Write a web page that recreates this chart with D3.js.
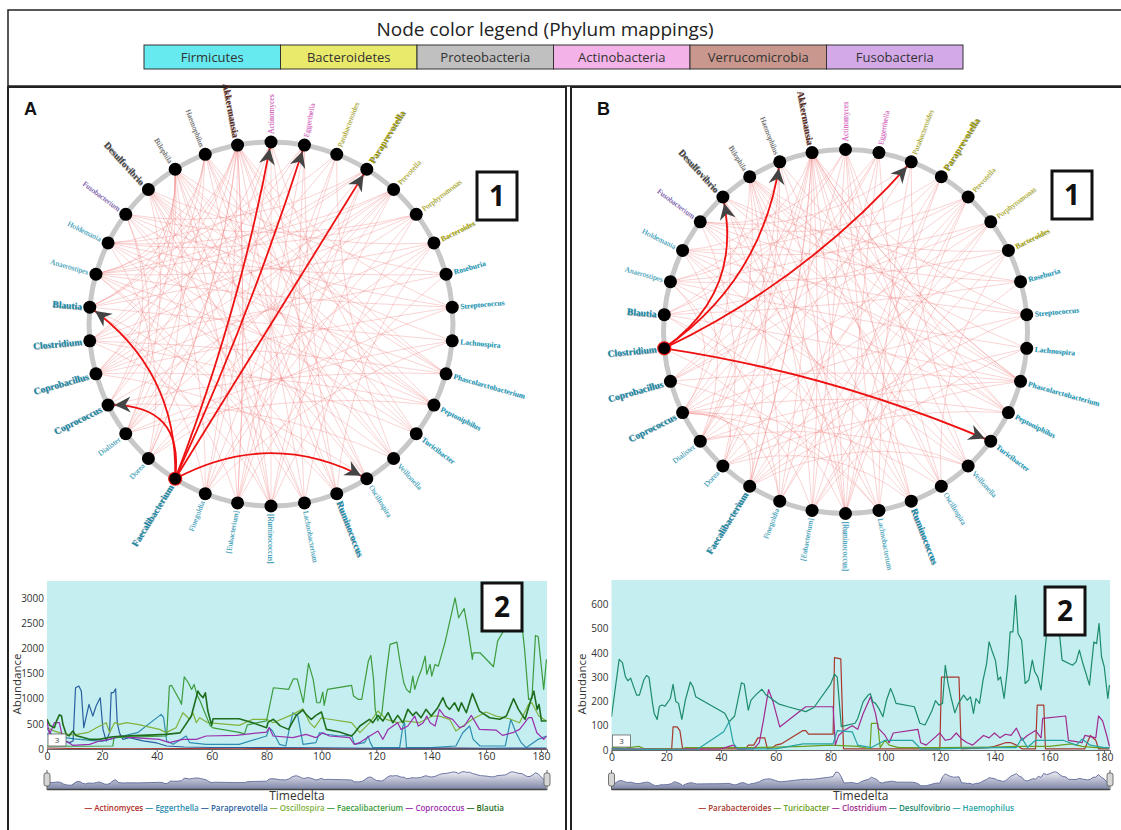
<!DOCTYPE html>
<html><head><meta charset="utf-8">
<script src="https://cdn.jsdelivr.net/npm/d3@7"></script>
<style>body{margin:0;background:#fff}svg{display:block}</style>
</head><body>
<svg id="chart" width="1121" height="830"></svg>
<script>
// ---------------- DATA ----------------
const legendTitle = "Node color legend (Phylum mappings)";
const phyla = ["Firmicutes","Bacteroidetes","Proteobacteria","Actinobacteria","Verrucomicrobia","Fusobacteria"];
const genera = ["Actinomyces","Eggerthella","Parabacteroides","Paraprevotella","Prevotella","Porphyromonas","Bacteroides","Roseburia","Streptococcus","Lachnospira","Phascolarctobacterium","Peptoniphilus","Turicibacter","Veillonella","Oscillospira","Ruminococcus","Lachnobacterium","[Ruminococcus]","[Eubacterium]","Finegoldia","Faecalibacterium","Dorea","Dialister","Coprococcus","Coprobacillus","Clostridium","Blautia","Anaerostipes","Holdemania","Fusobacterium","Desulfovibrio","Bilophila","Haemophilus","Akkermansia"];
const generaPhylum = ["Actinobacteria","Actinobacteria","Bacteroidetes","Bacteroidetes","Bacteroidetes","Bacteroidetes","Bacteroidetes","Firmicutes","Firmicutes","Firmicutes","Firmicutes","Firmicutes","Firmicutes","Firmicutes","Firmicutes","Firmicutes","Firmicutes","Firmicutes","Firmicutes","Firmicutes","Firmicutes","Firmicutes","Firmicutes","Firmicutes","Firmicutes","Firmicutes","Firmicutes","Firmicutes","Firmicutes","Fusobacteria","Proteobacteria","Proteobacteria","Proteobacteria","Verrucomicrobia"];

const edgesA = [[4,28],[4,27],[4,25],[4,22],[4,21],[4,24],[4,17],[5,29],[5,28],[5,26],[5,23],[5,19],[5,16],[6,30],[6,27],[6,24],[6,21],[6,18],[6,15],[33,13],[33,16],[33,18],[33,11],[33,21],[33,8],[0,17],[0,19],[0,12],[0,22],[1,22],[1,18],[1,15],[1,27],[2,28],[2,24],[2,13],[2,19],[3,29],[3,26],[3,18],[3,22],[7,28],[7,25],[7,17],[7,31],[8,27],[8,24],[8,29],[8,21],[9,26],[9,30],[9,22],[9,19],[10,28],[10,25],[10,31],[10,33],[10,23],[10,32],[11,27],[11,29],[11,24],[11,30],[11,31],[11,22],[12,28],[12,32],[12,25],[12,30],[13,27],[13,30],[13,31],[13,23],[14,32],[14,29],[14,33],[14,24],[14,30],[15,28],[15,31],[15,32],[15,0],[15,26],[16,29],[16,30],[16,1],[16,27],[17,30],[17,31],[17,32],[17,3],[17,27],[17,25],[18,31],[18,33],[18,2],[18,26],[19,30],[19,33],[19,4],[19,26],[21,31],[21,33],[21,28],[22,32],[22,30],[22,29],[23,31],[23,33],[23,29],[24,32],[24,31],[24,0],[25,33],[25,1],[25,31],[26,31],[26,32],[26,33],[27,33],[27,31],[27,3],[28,32]];
const edgesB = [[4,29],[4,27],[4,24],[4,21],[4,19],[4,16],[5,28],[5,26],[5,23],[5,20],[5,17],[6,30],[6,27],[6,22],[6,18],[6,14],[33,12],[33,15],[33,17],[33,10],[33,20],[33,8],[33,22],[0,16],[0,18],[0,13],[0,21],[0,11],[1,23],[1,19],[1,14],[1,27],[2,29],[2,22],[2,13],[3,28],[3,24],[3,17],[3,20],[7,29],[7,26],[7,18],[7,31],[8,28],[8,23],[8,30],[8,20],[9,27],[9,31],[9,21],[9,18],[10,29],[10,26],[10,31],[10,33],[10,22],[10,32],[10,24],[11,28],[11,30],[11,23],[11,31],[11,21],[11,33],[13,27],[13,31],[13,22],[13,29],[14,32],[14,28],[14,33],[14,23],[15,29],[15,31],[15,0],[15,26],[15,21],[16,28],[16,30],[16,2],[16,24],[17,30],[17,31],[17,32],[17,4],[17,26],[17,1],[18,31],[18,33],[18,3],[18,25],[19,30],[19,33],[19,5],[19,27],[20,31],[20,33],[20,23],[20,22],[20,13],[20,10],[21,32],[21,29],[21,23],[22,32],[22,31],[22,28],[23,30],[23,33],[23,27],[23,19],[23,16],[24,33],[24,1],[26,31],[26,0],[27,32],[28,33],[29,0]];
const highlightSourceA = 20;
const highlightTargetsA = [26,23,0,1,3,14];
const highlightSourceB = 25;
const highlightTargetsB = [30,32,2,12];

const xTicks = [0,20,40,60,80,100,120,140,160,180];
const yTicksA = [0,500,1000,1500,2000,2500,3000];
const yTicksB = [0,100,200,300,400,500,600];

const seriesNamesA = ["Actinomyces","Eggerthella","Paraprevotella","Oscillospira","Faecalibacterium","Coprococcus","Blautia"];
const actinomyces = [[0,20],[10,10],[30,5],[50,8],[70,5],[90,10],[110,5],[130,8],[150,12],[170,5],[182,10]];
const eggerthella = [[0,300],[3,250],[10,200],[20,150],[27.6,258],[33,324],[41.6,688],[42.5,622],[43.6,159],[46,93],[50.7,258],[52,126],[58,93],[70,93],[80,258],[81,424],[82.2,357],[84.7,93],[87,60],[89.6,721],[91.4,655],[93.3,93],[98,126],[99.3,324],[101.8,291],[106.6,258],[111,271],[112.1,93],[115.7,126],[117,258],[117.8,126],[118.8,27],[128.5,27],[129.7,457],[130.3,523],[131,27],[140,27],[149,60],[151.5,324],[154,457],[155.3,192],[157.8,60],[167,60],[169,590],[170.9,324],[172.8,126],[174.6,27],[179,192],[182,258]];
const paraprevotella = [[0,420],[2,260],[4.6,192],[8.2,126],[9.5,160],[10.4,1218],[11.6,1251],[12.5,1152],[13.4,424],[15.3,887],[16.7,655],[17.9,854],[19.4,1020],[20.4,390],[21.6,159],[22.8,325],[23.4,1119],[24.2,1119],[25,1197],[25.6,523],[26.4,325],[27.6,192],[30,225],[35,160],[40,120],[43.6,60],[50,40],[60,30],[80,30],[100,25],[120,15],[140,20],[160,15],[182,20]];
const oscillospira = [[0,420],[3,350],[6,300],[10,280],[15,330],[18,424],[21.6,523],[22.8,325],[24.6,523],[26.4,490],[28.9,523],[33,490],[41,390],[43.4,325],[47,424],[49.5,721],[52,590],[53.2,721],[54.4,523],[55.6,622],[58.6,523],[70,470],[75,590],[80,590],[82.4,523],[89.6,688],[93.3,800],[95.7,523],[97.5,424],[100,622],[101.8,602],[111,523],[114,324],[117.6,523],[120.6,755],[123.6,590],[127.8,523],[130.8,556],[135.6,523],[140.5,655],[143,655],[146.7,590],[149,357],[155,590],[160,735],[163.6,655],[168.5,602],[172.2,523],[175.5,887],[176.7,920],[179.2,655],[182,556]];
const faecalibacterium = [[0,60],[10,55],[24,60],[24.4,225],[43.6,258],[44.6,1250],[45.4,1264],[48.5,953],[49,887],[50,1436],[51.5,1317],[52.7,1185],[53.6,1284],[54.6,1085],[55.8,953],[58,655],[59.5,460],[60.5,420],[70,330],[72,300],[73,480],[80,560],[82.5,1218],[88,1185],[89.8,1397],[91.2,1390],[92.5,1119],[93.4,920],[95.3,1701],[97,1383],[98.3,920],[99.5,920],[100.5,1132],[101,867],[102.2,1185],[111,1264],[111.7,1053],[113.5,986],[114.7,986],[117.1,1748],[118,1860],[119,1383],[119.6,788],[120.5,560],[122,700],[123.8,1582],[125,2079],[127.5,2125],[128.7,1715],[130,1317],[131,1185],[132.3,1119],[133.3,1450],[134,1185],[135.3,1420],[136.5,1582],[137.8,1847],[138.4,1483],[139.6,1681],[140.2,1450],[141.4,1681],[142.6,1648],[145,2112],[148.7,3005],[150,2608],[152,2794],[153.6,2310],[155,1781],[155.3,1913],[157.8,1913],[162.7,1635],[164.2,2145],[166.3,2343],[168,2400],[170,2480],[173,2509],[174,2000],[175.5,986],[176.7,1000],[178,2257],[179,2230],[181,1185],[182,1780]];
const coprococcus = [[0,550],[0.9,290],[2.7,523],[4.5,523],[5.8,192],[9.4,73],[15.5,93],[19.2,159],[22.8,192],[26.4,258],[30,230],[41,192],[44.6,126],[49.5,192],[54.4,192],[58,258],[69,271],[80,337],[81,424],[82.4,258],[89.6,225],[94.4,291],[98,225],[100.5,324],[102.9,258],[110.3,225],[112,93],[113.9,126],[117.6,258],[120.6,357],[122.4,192],[124.3,390],[127.8,523],[129,390],[131.5,457],[134,655],[135.3,457],[137.1,523],[138.4,655],[139.6,523],[141.4,457],[143,788],[144.8,655],[147.8,590],[150.3,424],[152.1,457],[154.6,668],[157.6,390],[163.6,377],[166,271],[169.7,324],[172.2,390],[175.5,622],[176.7,622],[178.5,324],[181,192],[182,258]];
const blautia = [[0,590],[1,470],[2.7,424],[3.5,560],[4.5,680],[5.3,655],[5.8,490],[7,291],[8,260],[9.4,357],[10.5,270],[15.5,192],[19,192],[24,245],[30,260],[43.4,291],[48.5,320],[52.6,655],[55,1152],[55.7,1085],[56.9,1020],[57.7,1119],[58.6,760],[60,470],[60.5,602],[70,602],[75,520],[80,424],[80.6,535],[82.5,590],[85,460],[88,390],[90.8,668],[93.2,775],[94.4,690],[96.3,590],[98,668],[100,735],[101.8,390],[106.6,337],[111,258],[112.1,324],[114,457],[117.5,590],[118.7,523],[120.6,668],[122.4,556],[124.3,722],[126,523],[127.8,668],[129.7,523],[131.5,788],[133.3,668],[134.5,735],[136.3,622],[138.1,788],[140,655],[142.4,821],[144.3,1020],[145.5,854],[146.7,788],[148.5,920],[150,754],[151,920],[152.8,721],[155,1105],[157.6,754],[161.3,622],[165,590],[167.4,655],[170,1000],[171.8,788],[174.2,590],[176,920],[177.4,1152],[178.6,788],[179.3,887],[180.2,556],[182,556]];

const seriesNamesB = ["Parabacteroides","Turicibacter","Clostridium","Desulfovibrio","Haemophilus"];
const parabacteroides = [[0,5],[10,3],[22,5],[22.5,95],[24,95],[25,80],[26,5],[49,5],[50,20],[52,20],[53.5,50],[56,50],[57,5],[59,10],[60,20],[62,25],[70,80],[71,80],[72,65],[81,65],[81.5,380],[83.8,375],[84.8,5],[120,5],[120.6,300],[127,300],[127.8,5],[138,10],[140,15],[144,30],[146,30],[148,20],[150,5],[155,5],[155.6,185],[158,185],[158.6,5],[173,5],[175,60],[177,40],[178,5],[182,5]];
const turicibacter = [[0,10],[5,8],[10,15],[12,5],[26,5],[27,10],[40,10],[50,10],[60,12],[70,15],[80,20],[90,15],[94.5,5],[95,110],[97.3,110],[98.2,10],[100,40],[101.5,20],[105,10],[120,10],[140,12],[150,15],[160,15],[168,25],[172,15],[177,10],[182,10]];
const clostridium = [[0,5],[20,3],[40,5],[43,15],[44.5,20],[46,5],[52,5],[54,30],[55.5,120],[57.4,249],[59,200],[61.5,95],[70,170],[71,178],[81,178],[81.8,20],[83,60],[85,80],[88,100],[90,85],[92,150],[94.7,219],[96.5,150],[97.5,90],[100,60],[101.5,30],[103,70],[112,85],[113,30],[115,20],[118,50],[120,70],[122,40],[124,45],[126,70],[128,45],[130,30],[132,20],[134,40],[136,60],[138,50],[140,70],[142,50],[144,65],[146,60],[148,90],[150,40],[152,60],[155,80],[157,50],[157.6,130],[166,140],[167,40],[172,30],[173,60],[177,50],[178,140],[179.5,120],[181,60],[182,15]];
const desulfovibrio = [[0,137],[2.8,373],[4,360],[5.1,301],[6,285],[7,296],[8,263],[9.2,226],[10.2,226],[11.8,288],[12.8,307],[13.7,300],[15,192],[15.6,150],[16.7,126],[17.5,180],[18.5,185],[19.5,180],[21.5,212],[22.5,270],[23.5,200],[24.5,192],[25.7,126],[27,205],[28.8,280],[29.8,260],[30.8,219],[41.4,151],[43,116],[45,140],[47.5,277],[48.5,272],[50,164],[51,205],[53,230],[55,250],[56.5,226],[58,215],[61,190],[64.5,178],[71,158],[74,175],[80,270],[81.5,312],[82.5,300],[84,96],[89,110],[90,130],[92,199],[93.8,226],[94.6,232],[95.5,199],[96.5,192],[97.9,167],[99.2,137],[100.5,205],[102,253],[103,226],[104,192],[110.7,178],[112.7,110],[114.6,103],[117.2,164],[118.4,203],[119.7,185],[121,192],[122,349],[123,274],[124.2,212],[125.5,153],[126.8,192],[128.7,226],[130,205],[131.2,219],[132.3,151],[133.2,212],[134.5,192],[135.8,288],[137.1,356],[138,445],[139,411],[140.3,370],[141.3,288],[142.2,301],[143.5,212],[144.8,342],[145.7,486],[146.7,486],[147.7,637],[148.6,480],[149.9,452],[151.2,274],[152.5,288],[153.8,370],[154.7,322],[155.8,301],[157,247],[159,473],[160.3,527],[162,610],[163,560],[164.7,370],[168.5,349],[169.8,363],[171,411],[172.3,356],[174.7,267],[176.3,445],[177.3,438],[178.2,521],[179.1,384],[180.1,342],[181.4,212],[182,267]];
const haemophilus = [[0,5],[10,3],[30,0],[31,0],[41,75],[43,116],[44.5,30],[46,5],[60,5],[70,25],[81,25],[82.5,80],[88,75],[90,20],[95,10],[100,40],[102,40],[110,40],[113,5],[120,5],[130,8],[140,10],[148,10],[150,50],[152,10],[155,40],[160,40],[165,40],[170,20],[172,45],[175,20],[180,10],[182,10]];

// ---------------- STYLES ----------------
const phylumFill = {Firmicutes:"#66e9ef",Bacteroidetes:"#e9e96b",Proteobacteria:"#c0c0c0",Actinobacteria:"#f3b3e8",Verrucomicrobia:"#c9978d",Fusobacteria:"#d3a9e8"};
const phylumText = {Firmicutes:"#1a9dbd",Bacteroidetes:"#a5a400",Proteobacteria:"#555",Actinobacteria:"#e052c6",Verrucomicrobia:"#5a2a20",Fusobacteria:"#6a3fa8"};
const bigLabels = new Set(["Akkermansia","Desulfovibrio","Paraprevotella","Blautia","Clostridium","Coprobacillus","Coprococcus","Faecalibacterium","Ruminococcus"]);
const midLabels = new Set(["Roseburia","Streptococcus","Lachnospira","Phascolarctobacterium","Peptoniphilus","Turicibacter","Bacteroides"]);
const colorsA = ["#b0302a","#2e8db0","#2a5f9f","#80b23c","#3c9c3c","#9a30ad","#1e6e1e"];
const colorsB = ["#a8382c","#6aa020","#a02a90","#1c8b6b","#27a3a3"];

const svg = d3.select("#chart");
const defs = svg.append("defs");

// ---------------- HEADER ----------------
svg.append("rect").attr("x",8).attr("y",10).attr("width",1130).attr("height",76)
  .attr("fill","none").attr("stroke","#222").attr("stroke-width",1.5);
svg.append("text").attr("x",545).attr("y",36).attr("text-anchor","middle")
  .attr("font-family","Open Sans").attr("font-size",19).attr("fill","#222").text(legendTitle);
const legendBand = d3.scaleBand().domain(phyla).range([144,963]);
const lg = svg.append("g").selectAll("g").data(phyla).join("g");
lg.append("rect").attr("x",d=>legendBand(d)).attr("y",45).attr("width",legendBand.bandwidth()).attr("height",24)
  .attr("fill",d=>phylumFill[d]).attr("stroke","#333").attr("stroke-width",1);
lg.append("text").attr("x",d=>legendBand(d)+legendBand.bandwidth()/2).attr("y",62).attr("text-anchor","middle")
  .attr("font-family","Open Sans").attr("font-size",13).attr("fill","#333").text(d=>d);

// ---------------- PANELS ----------------
const panels = [
  {label:"A", box:[8,87,558,760], labelX:24, cx:271, cy:324, r:182, edges:edgesA, src:highlightSourceA, targets:highlightTargetsA,
   numBox1:[477,172], plot:{l:47,r:547,t:581,b:749}, yMax:3340, yTicks:yTicksA,
   names:seriesNamesA, data:[actinomyces,eggerthella,paraprevotella,oscillospira,faecalibacterium,coprococcus,blautia], colors:colorsA,
   numBox2:[482,583], legendX:294},
  {label:"B", box:[571,87,560,760], labelX:597, cx:845.5, cy:331.5, r:182, edges:edgesB, src:highlightSourceB, targets:highlightTargetsB,
   numBox1:[1052,171], plot:{l:611.5,r:1110,t:580,b:750}, yMax:700, yTicks:yTicksB,
   names:seriesNamesB, data:[parabacteroides,turicibacter,clostridium,desulfovibrio,haemophilus], colors:colorsB,
   numBox2:[1045,587], legendX:856}
];

function numberBox(g, x, y, w, h, txt, fs){
  g.append("rect").attr("x",x).attr("y",y).attr("width",w).attr("height",h)
    .attr("fill","#fff").attr("stroke","#111").attr("stroke-width",3);
  g.append("text").attr("x",x+w/2).attr("y",y+h/2).attr("dy","0.36em").attr("text-anchor","middle")
    .attr("font-family","Open Sans").attr("font-weight","bold").attr("font-size",fs).attr("fill","#111").text(txt);
}

function interp(series, t){
  const i = d3.bisector(d=>d[0]).left(series, t);
  if (i <= 0) return series[0][1];
  if (i >= series.length) return series[series.length-1][1];
  const a = series[i-1], b = series[i];
  return a[1] + (b[1]-a[1])*(t-a[0])/(b[0]-a[0]);
}

panels.forEach((P, pi) => {
  const g = svg.append("g");
  g.append("rect").attr("x",P.box[0]).attr("y",P.box[1]).attr("width",P.box[2]).attr("height",P.box[3])
    .attr("fill","none").attr("stroke","#222").attr("stroke-width",2);
  g.append("text").attr("x",P.labelX).attr("y",115).attr("font-family","Liberation Sans, Arial").attr("font-weight","bold")
    .attr("font-size",18).attr("fill","#111").text(P.label);

  // ---- circular network ----
  const ang = d3.scaleLinear().domain([0, genera.length]).range([0, 2*Math.PI]);
  const px = i => P.cx + P.r*Math.sin(ang(i));
  const py = i => P.cy - P.r*Math.cos(ang(i));
  const k = 0.33;
  const curve = (s,t) => {
    const sx=px(s), sy=py(s), tx=px(t), ty=py(t);
    const mx=(sx+tx)/2, my=(sy+ty)/2;
    const cx=mx+k*(P.cx-mx), cy=my+k*(P.cy-my);
    const p = d3.path(); p.moveTo(sx,sy); p.quadraticCurveTo(cx,cy,tx,ty); return p.toString();
  };
  g.append("circle").attr("cx",P.cx).attr("cy",P.cy).attr("r",P.r)
    .attr("fill","none").attr("stroke","#c8c8c8").attr("stroke-width",5);
  g.append("g").selectAll("path").data(P.edges).join("path")
    .attr("d",d=>curve(d[0],d[1])).attr("fill","none")
    .attr("stroke","#f07070").attr("stroke-opacity",0.38).attr("stroke-width",0.8);

  const mid = "arrow"+P.label;
  defs.append("marker").attr("id",mid).attr("viewBox","0 -8 16 16").attr("refX",16+6.5).attr("refY",0)
    .attr("markerUnits","userSpaceOnUse").attr("markerWidth",16).attr("markerHeight",16)
    .attr("orient","auto").style("overflow","visible")
    .append("path").attr("d","M0,-8L16,0L0,8L5,0Z").attr("fill","#444");
  g.append("g").selectAll("path").data(P.targets).join("path")
    .attr("d",t=>curve(P.src,t)).attr("fill","none")
    .attr("stroke","#ee1111").attr("stroke-width",1.8).attr("marker-end",`url(#${mid})`);

  g.append("g").selectAll("circle").data(genera).join("circle")
    .attr("cx",(d,i)=>px(i)).attr("cy",(d,i)=>py(i)).attr("r",6.5)
    .attr("fill","#000").attr("stroke",(d,i)=>i===P.src?"#ee1111":"none").attr("stroke-width",1.2);

  g.append("g").selectAll("text").data(genera).join("text")
    .attr("transform",(d,i)=>{
      const deg = ang(i)*180/Math.PI;
      return `translate(${P.cx},${P.cy}) rotate(${deg-90}) translate(${P.r+8},0)` + (deg>180?" rotate(180)":"");
    })
    .attr("text-anchor",(d,i)=> ang(i)*180/Math.PI>180 ? "end" : "start")
    .attr("dy","0.35em")
    .attr("font-family","Liberation Serif, Times New Roman, serif")
    .attr("font-size",d=>bigLabels.has(d)?9.5:7.5)
    .attr("font-weight",d=>(bigLabels.has(d)||midLabels.has(d))?"bold":"normal")
    .attr("fill",(d,i)=>{
      const ph = generaPhylum[i];
      if (ph==="Proteobacteria" && bigLabels.has(d)) return "#444";
      if (ph==="Firmicutes" && bigLabels.has(d)) return "#1590b0";
      if (ph==="Bacteroidetes" && bigLabels.has(d)) return "#9a9a00";
      return phylumText[ph];
    })
    .style("text-shadow",d=>bigLabels.has(d)?"0.7px 0.7px 0.6px rgba(0,0,0,0.45)":"0.4px 0.4px 0.5px rgba(0,0,0,0.25)")
    .text(d=>d);

  numberBox(g, P.numBox1[0], P.numBox1[1], 40, 48, "1", 28);

  // ---- line chart ----
  const pl = P.plot;
  const x = d3.scaleLinear().domain([0,182.2]).range([pl.l,pl.r]);
  const y = d3.scaleLinear().domain([0,P.yMax]).range([pl.b,pl.t]);
  const clipId = "clip"+P.label;
  defs.append("clipPath").attr("id",clipId).append("rect")
    .attr("x",pl.l).attr("y",pl.t).attr("width",pl.r-pl.l).attr("height",pl.b-pl.t);
  g.append("rect").attr("x",pl.l).attr("y",pl.t).attr("width",pl.r-pl.l).attr("height",pl.b-pl.t).attr("fill","#c5eef1");
  const line = d3.line().x(d=>x(d[0])).y(d=>y(d[1]));
  const lines = g.append("g").attr("clip-path",`url(#${clipId})`);
  P.data.forEach((s,si)=>{
    lines.append("path").datum(s).attr("d",line).attr("fill","none")
      .attr("stroke",P.colors[si]).attr("stroke-width", (P.label==="A" && si===6)?1.6:1.2)
      .attr("stroke-linejoin","round");
  });

  const xa = g.append("g").attr("transform",`translate(0,${pl.b})`)
    .call(d3.axisBottom(x).tickValues(xTicks).tickSize(3).tickPadding(1));
  xa.select(".domain").attr("stroke","#666");
  xa.selectAll(".tick line").attr("stroke","#666");
  xa.selectAll("text").attr("font-family","Open Sans").attr("font-size",10.5).attr("fill","#333");
  const ya = g.append("g").attr("transform",`translate(${pl.l},0)`)
    .call(d3.axisLeft(y).tickValues(P.yTicks).tickFormat(d3.format("d")).tickSize(0).tickPadding(3));
  ya.select(".domain").remove();
  ya.selectAll("text").attr("font-family","Open Sans").attr("font-size",10).attr("fill","#333");
  g.append("text").attr("transform",`translate(${pl.l-26},684) rotate(-90)`).attr("text-anchor","middle")
    .attr("font-family","Open Sans").attr("font-size",11.5).attr("fill","#333").text("Abundance");

  // "3" tag
  g.append("rect").attr("x",pl.l+1).attr("y",pl.b-15).attr("width",18).attr("height",12)
    .attr("fill","#fff").attr("stroke","#666").attr("stroke-width",0.8);
  g.append("text").attr("x",pl.l+10).attr("y",pl.b-9).attr("dy","0.35em").attr("text-anchor","middle")
    .attr("font-family","Open Sans").attr("font-size",8).attr("fill","#444").text("3");

  numberBox(g, P.numBox2[0], P.numBox2[1], 40, 48, "2", 28);

  // ---- overview (context) ----
  const grid = d3.range(0,182.5,1);
  const totals = grid.map(t => [t, d3.sum(P.data, s => interp(s,t))]);
  const yO = d3.scaleLinear().domain([0, d3.max(totals,d=>d[1])*1.04]).range([789,771]);
  const gradId = "grad"+P.label;
  const gr = defs.append("linearGradient").attr("id",gradId).attr("gradientUnits","userSpaceOnUse")
    .attr("x1",0).attr("y1",771).attr("x2",0).attr("y2",789);
  gr.append("stop").attr("offset","0%").attr("stop-color","#f2f2f7");
  gr.append("stop").attr("offset","100%").attr("stop-color","#7f87a8");
  g.append("path").datum(totals).attr("d",d3.area().x(d=>x(d[0])).y0(789).y1(d=>yO(d[1]))).attr("fill",`url(#${gradId})`);
  g.append("path").datum(totals).attr("d",d3.line().x(d=>x(d[0])).y(d=>yO(d[1]))).attr("fill","none")
    .attr("stroke","#6a74a2").attr("stroke-width",1);
  g.append("line").attr("x1",pl.l).attr("x2",pl.r).attr("y1",789.5).attr("y2",789.5).attr("stroke","#444").attr("stroke-width",1.5);
  [pl.l,pl.r].forEach(hx=>{
    g.append("line").attr("x1",hx).attr("x2",hx).attr("y1",770).attr("y2",790).attr("stroke","#666").attr("stroke-width",1);
    g.append("rect").attr("x",hx-3).attr("y",773).attr("width",6).attr("height",13).attr("rx",2)
      .attr("fill","#d6d6d6").attr("stroke","#555").attr("stroke-width",0.8);
  });
  g.append("text").attr("x",(pl.l+pl.r)/2).attr("y",800).attr("text-anchor","middle")
    .attr("font-family","Open Sans").attr("font-size",12).attr("fill","#333").text("Timedelta");

  const lt = g.append("text").attr("x",P.legendX).attr("y",811).attr("text-anchor","middle")
    .attr("font-family","Open Sans").attr("font-size",8).attr("font-weight",600);
  P.names.forEach((n,i)=>{
    lt.append("tspan").attr("fill",P.colors[i]).text((i?" ":"")+"\u2014 "+n);
  });
});
</script>
</body></html>
